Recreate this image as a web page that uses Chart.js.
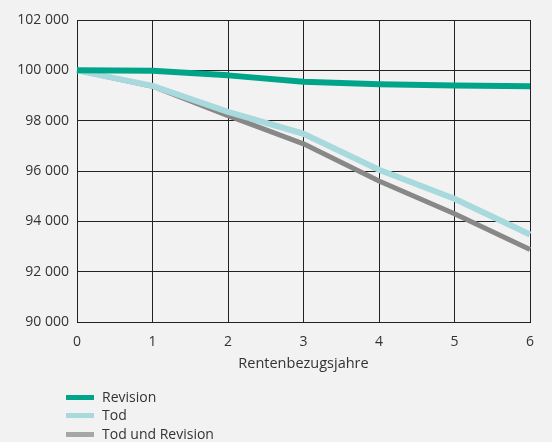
<!DOCTYPE html>
<html><head><meta charset="utf-8">
<script src="https://cdn.jsdelivr.net/npm/chart.js@4.4.0/dist/chart.umd.min.js"></script>
<style>
html,body{margin:0;padding:0;background:#f2f2f2;}
#wrap{position:relative;width:552px;height:442px;overflow:hidden;}
canvas{position:absolute;left:0;top:0;}
.lg{position:absolute;left:66px;font-family:"Open Sans",sans-serif;font-size:14px;color:#333;line-height:18px;}
.lg span{position:absolute;left:0;width:28px;height:5px;}
.lg b{font-weight:normal;position:absolute;left:36px;white-space:nowrap;top:0;}
</style></head>
<body><div id="wrap"><canvas id="c" width="552" height="442"></canvas>
<div class="lg" style="top:388px"><span style="top:6.5px;background:#00a589"></span><b>Revision</b></div>
<div class="lg" style="top:406px"><span style="top:6.5px;background:#a8d9dd"></span><b>Tod</b></div>
<div class="lg" style="top:425px"><span style="top:6.5px;background:#a6a6a6"></span><b>Tod und Revision</b></div>
</div>
<script>
const years = ['0','1','2','3','4','5','6'];
const revision = [100000, 99980, 99800, 99550, 99450, 99400, 99370];
const tod = [100000, 99380, 98350, 97480, 96050, 94900, 93480];
const todRevision = [100000, 99370, 98200, 97080, 95600, 94300, 92880];
const yTicks = [90000, 92000, 94000, 96000, 98000, 100000, 102000];
const xTitle = 'Rentenbezugsjahre';

const fmt = v => String(v).replace(/\B(?=(\d{3})+(?!\d))/g, ' ');
const font = {family: '"Open Sans", sans-serif', size: 14};

new Chart(document.getElementById('c'), {
  type: 'line',
  data: {
    labels: years,
    datasets: [
      {label: 'Revision', data: revision, borderColor: '#00a589', borderWidth: 6},
      {label: 'Tod', data: tod, borderColor: '#a8d9dd', borderWidth: 6},
      {label: 'Tod und Revision', data: todRevision, borderColor: '#888888', borderWidth: 5}
    ].map(d => Object.assign(d, {pointRadius: 0, tension: 0, fill: false, borderCapStyle: 'butt', borderJoinStyle: 'round'}))
  },
  options: {
    responsive: false,
    animation: false,
    layout: {padding: {left: 0, right: 22, top: 20, bottom: 65}},
    plugins: {legend: {display: false}, tooltip: {enabled: false}},
    scales: {
      x: {
        offset: false,
        grid: {color: '#222', lineWidth: 1, drawTicks: false},
        border: {color: '#222', width: 1},
        ticks: {color: '#333', font: font, padding: 12, maxRotation: 0},
        title: {display: true, text: xTitle, color: '#333', font: {family: font.family, size: 14.5}, padding: {top: 2, bottom: 4}},
        afterFit: s => { s.height = 55; }
      },
      y: {
        min: 90000, max: 102000,
        afterBuildTicks: s => { s.ticks = yTicks.map(v => ({value: v})); },
        grid: {color: '#222', lineWidth: 1, drawTicks: false},
        border: {color: '#222', width: 1},
        ticks: {color: '#333', font: font, padding: 8, callback: v => fmt(v)},
        afterFit: s => { s.width = 77; }
      }
    }
  }
});
</script></body></html>
